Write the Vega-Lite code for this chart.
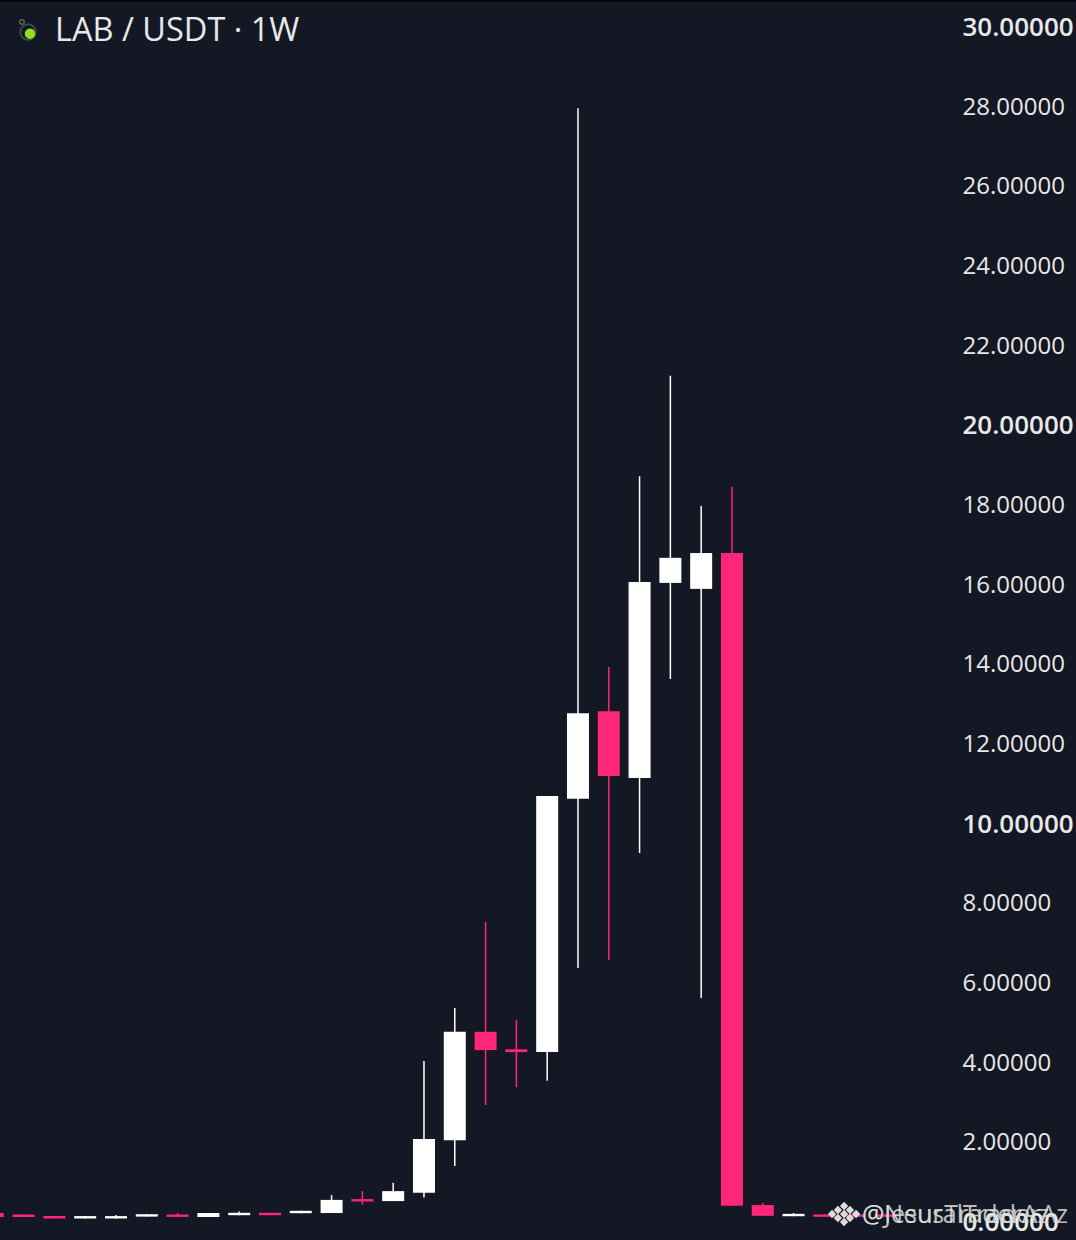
{
"$schema":"https://vega.github.io/schema/vega-lite/v6.json",
"width":1076,"height":1240,"autosize":{"type":"none"},"padding":0,"background":"#141724",
"config":{"view":{"stroke":null}},
"datasets":{
"candles":[
{"week":0,"open":0.2,"high":0.2,"low":0.1,"close":0.1,"dir":"down"},
{"week":1,"open":0.163,"high":0.163,"low":0.103,"close":0.103,"dir":"down"},
{"week":2,"open":0.123,"high":0.123,"low":0.063,"close":0.063,"dir":"down"},
{"week":3,"open":0.063,"high":0.123,"low":0.063,"close":0.123,"dir":"up"},
{"week":4,"open":0.063,"high":0.15,"low":0.063,"close":0.123,"dir":"up"},
{"week":5,"open":0.11,"high":0.17,"low":0.11,"close":0.17,"dir":"up"},
{"week":6,"open":0.163,"high":0.2,"low":0.103,"close":0.103,"dir":"down"},
{"week":7,"open":0.1,"high":0.2,"low":0.1,"close":0.2,"dir":"up"},
{"week":8,"open":0.146,"high":0.24,"low":0.146,"close":0.206,"dir":"up"},
{"week":9,"open":0.206,"high":0.206,"low":0.146,"close":0.146,"dir":"down"},
{"week":10,"open":0.196,"high":0.256,"low":0.196,"close":0.256,"dir":"up"},
{"week":11,"open":0.2,"high":0.65,"low":0.2,"close":0.53,"dir":"up"},
{"week":12,"open":0.55,"high":0.75,"low":0.41,"close":0.49,"dir":"down"},
{"week":13,"open":0.5,"high":0.96,"low":0.5,"close":0.75,"dir":"up"},
{"week":14,"open":0.71,"high":4.02,"low":0.59,"close":2.06,"dir":"up"},
{"week":15,"open":2.03,"high":5.35,"low":1.38,"close":4.75,"dir":"up"},
{"week":16,"open":4.75,"high":7.51,"low":2.91,"close":4.29,"dir":"down"},
{"week":17,"open":4.31,"high":5.05,"low":3.36,"close":4.24,"dir":"down"},
{"week":18,"open":4.24,"high":10.67,"low":3.52,"close":10.67,"dir":"up"},
{"week":19,"open":10.6,"high":27.94,"low":6.35,"close":12.75,"dir":"up"},
{"week":20,"open":12.8,"high":13.91,"low":6.55,"close":11.17,"dir":"down"},
{"week":21,"open":11.12,"high":18.7,"low":9.24,"close":16.04,"dir":"up"},
{"week":22,"open":16.02,"high":21.22,"low":13.61,"close":16.65,"dir":"up"},
{"week":23,"open":15.87,"high":17.95,"low":5.6,"close":16.77,"dir":"up"},
{"week":24,"open":16.77,"high":18.43,"low":0.38,"close":0.38,"dir":"down"},
{"week":25,"open":0.4,"high":0.45,"low":0.13,"close":0.13,"dir":"down"},
{"week":26,"open":0.12,"high":0.2,"low":0.12,"close":0.18,"dir":"up"},
{"week":27,"open":0.165,"high":0.165,"low":0.105,"close":0.105,"dir":"down"},
{"week":28,"open":0.165,"high":0.165,"low":0.105,"close":0.105,"dir":"down"},
{"week":29,"open":0.165,"high":0.165,"low":0.105,"close":0.105,"dir":"down"}
],
"title":[{"week":2.02,"price":29.88,"label":"LAB / USDT · 1W"}],
"marks":[{"week":28.22,"price":0.15,"label":"@NeuralTraderAz"},{"week":28.22,"price":0.15,"label":"@JesusTraderAz"}],
"logo":[{"week":27.64,"price":0.176},{"week":27.25,"price":0.176},{"week":28.03,"price":0.176},{"week":27.64,"price":0.377},{"week":27.64,"price":-0.025},{"week":27.44,"price":0.276},{"week":27.83,"price":0.276},{"week":27.44,"price":0.075},{"week":27.83,"price":0.075}],
"flask":[{"week":1.143,"price":29.85}],
"fill":[{"week":1.208,"price":29.81}],
"neck":[{"week":0.948,"price":30.1}],
"edge":[{"price":30.655}]
},
"encoding":{
"x":{"field":"week","type":"quantitative","scale":{"domain":[0.234,35.17],"nice":false,"zero":false,"padding":0},"axis":null},
"y":{"field":"price","type":"quantitative"}
},
"layer":[
{"data":{"name":"candles"},"mark":{"type":"rule","strokeWidth":1.5,"clip":true},
 "encoding":{
  "y":{"field":"low","type":"quantitative","scale":{"domain":[-0.477,30.655],"nice":false,"zero":false},
   "axis":{"orient":"right","values":[0,2,4,6,8,10,12,14,16,18,20,22,24,26,28,30],"format":".5f","ticks":false,"domain":false,"grid":false,"title":null,"labelPadding":-114,"labelOffset":1.5,"labelAlign":"left","labelBaseline":"middle","labelFont":"Open Sans","labelColor":"#e8e8e8","labelFontSize":{"condition":{"test":"datum.value % 10 === 0","value":26},"value":24},"labelFontWeight":{"condition":{"test":"datum.value % 10 === 0","value":600},"value":500},"labelOverlap":false,"labelBound":false,"labelFlush":false}},
  "y2":{"field":"high"},
  "color":{"field":"dir","type":"nominal","scale":{"domain":["up","down"],"range":["#ffffff","#fd2678"]},"legend":null}
 }},
{"data":{"name":"candles"},"mark":{"type":"bar","size":22,"clip":true},
 "encoding":{
  "y":{"field":"open","type":"quantitative"},
  "y2":{"field":"close"},
  "color":{"field":"dir","type":"nominal","legend":null}
 }},
{"data":{"name":"title"},"mark":{"type":"text","align":"left","baseline":"middle","font":"Open Sans","fontSize":32.5,"fontWeight":500,"color":"#e8e8e8"},"encoding":{"text":{"field":"label"}}},
{"data":{"name":"marks"},"mark":{"type":"text","align":"left","baseline":"middle","font":"Open Sans","fontSize":25,"color":"#dcdcdc","opacity":0.85},"encoding":{"text":{"field":"label"}}},
{"data":{"name":"logo"},"mark":{"type":"point","shape":"diamond","filled":true,"size":70,"color":"#dcdcdc","opacity":1}},
{"data":{"name":"flask"},"mark":{"type":"point","shape":"circle","filled":false,"size":240,"color":"#555a60","strokeWidth":2}},
{"data":{"name":"fill"},"mark":{"type":"point","shape":"circle","filled":true,"size":110,"color":"#8fe01f","opacity":1}},
{"data":{"name":"neck"},"mark":{"type":"point","shape":"circle","filled":false,"size":20,"color":"#7a8a50","strokeWidth":1.5}},
{"data":{"name":"edge"},"mark":{"type":"rule","color":"#000000","strokeWidth":3},"encoding":{"x":{"value":0},"x2":{"value":1076}}}
]
}
